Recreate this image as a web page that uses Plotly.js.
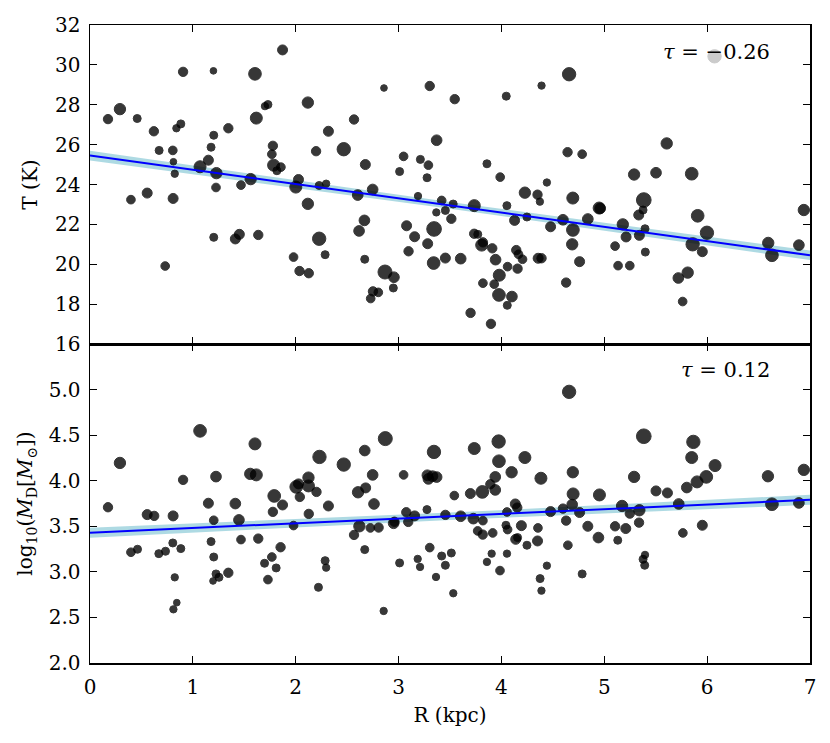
<!DOCTYPE html>
<html>
<head>
<meta charset="utf-8">
<script src="https://cdn.plot.ly/plotly-3.0.1.min.js"></script>
<style>
  html, body { margin: 0; padding: 0; background: #fff; }
  #chart { width: 830px; height: 743px; }
</style>
</head>
<body>
<div id="chart"></div>
<script>
// --- top panel: galactocentric radius vs dust temperature
var tR = [0.175,0.291,0.459,0.398,0.556,0.621,0.672,0.731,0.805,0.811,0.824,0.808,0.84,0.883,0.905,
  1.2,1.203,1.177,1.151,1.07,1.229,1.225,1.203,1.345,1.413,1.452,1.468,1.562,1.604,1.617,1.636,1.701,1.73,
  1.778,1.768,1.785,1.856,1.817,1.872,1.979,2.001,2.027,2.037,2.127,2.118,2.118,2.198,2.228,2.228,2.296,
  2.286,2.318,2.467,2.567,2.677,2.603,2.668,2.616,2.671,2.748,2.858,2.868,2.955,2.949,2.751,2.803,2.729,
  3.049,3.01,3.078,3.097,3.156,3.303,3.546,4.047,4.39,4.658,3.37,3.212,3.29,3.277,3.189,3.859,3.988,4.442,
  4.643,4.785,4.228,4.351,4.374,4.694,4.95,4.96,3.419,3.531,3.367,3.455,3.513,3.736,4.053,4.128,4.248,
  4.478,4.598,4.695,4.688,4.84,3.345,3.283,3.341,3.455,3.604,3.735,3.77,3.808,3.82,3.911,3.943,3.979,
  3.82,3.93,3.976,4.102,4.057,4.06,4.157,4.144,4.166,4.205,4.357,4.39,3.7,3.898,4.629,4.76,5.105,5.134,
  5.248,5.212,5.18,5.29,5.503,5.384,5.377,5.335,5.396,5.341,5.399,5.607,5.85,5.908,5.998,5.859,5.953,
  5.811,5.72,5.762,6.594,6.63,6.892,6.94];
var tT = [27.28,27.78,27.31,23.24,23.57,26.67,25.71,19.91,25.71,25.14,24.54,23.30,26.82,27.04,29.65,
  29.70,26.47,25.87,25.22,24.89,24.57,23.85,21.35,26.82,21.27,21.50,23.97,24.27,29.55,27.33,21.47,27.93,28.01,
  25.94,25.52,24.97,24.87,24.69,30.75,20.36,23.87,24.25,19.66,19.55,28.11,23.03,25.67,21.28,23.95,24.04,
  20.48,26.67,25.77,27.26,25.0,23.47,22.20,21.67,20.25,23.75,28.84,19.61,19.35,18.81,18.64,18.59,18.28,
  25.41,24.65,21.93,20.65,21.38,28.94,28.28,28.43,28.96,29.53,26.22,25.26,24.97,24.34,23.42,25.04,24.37,24.10,
  25.62,25.52,23.59,23.49,23.14,23.32,22.82,22.80,23.20,23.02,22.60,22.70,22.28,22.94,22.94,22.20,22.37,
  21.88,22.23,21.72,21.0,22.27,21.77,21.03,20.06,20.31,20.28,21.53,21.50,20.96,21.1,20.80,20.23,19.45,
  19.05,19.0,18.46,18.38,17.94,19.88,19.78,20.71,20.50,20.25,20.30,20.30,17.56,17.01,19.08,20.13,20.91,19.93,
  19.93,21.37,22.0,24.50,24.59,23.22,22.72,22.47,21.78,21.45,20.61,26.06,24.54,22.43,21.58,21.0,20.63,
  19.58,19.31,18.13,21.07,20.45,20.96,22.72];
var tW = [3,4.5,2,2.5,3.5,3,2,2.5,2.5,1,1.5,3.5,1.5,2,3,
  1,2,2,3.5,5,4.5,2.5,2,3,3.5,3.5,2.5,4.5,5.5,5,3,1.5,2,
  3,2.5,5,2.5,2,3.5,2.5,5,3.5,3,3,4.5,4.5,3,6,2,1.5,
  2,3.5,6,3,3.5,4,4,4,2,4,1,6.5,4,2,3,2.5,2.5,
  2.5,2,3.5,3,3.5,3,3,2,1.5,6,4,2,2.5,2,1.5,2,2.5,1.5,
  3,2.5,4.5,3,1.5,5,5,4,2.5,2,1.5,2,3,5,2,3.5,2,
  3.5,4,5.5,4.5,4,7,3.5,5.5,3.5,4,3,2,5,3,3,4,5,
  2.5,2.5,5.5,4,2,2.5,3,3,2.5,2.5,3.5,3,3,3,3,3.5,2.5,2.5,
  2.5,3.5,4.5,4.5,4,7,2,3.5,2,3.5,2,4.5,5.5,5.5,6,6,3.5,
  4.5,4,2.5,4.5,5.5,4,4.5];
// the one source drawn in light grey
var greyR = [6.072], greyT = [30.43], greyW = [6];

// --- bottom panel: radius vs log dust mass
var mR = [0.175,0.291,0.398,0.462,0.556,0.624,0.669,0.734,0.808,0.805,0.883,0.824,0.844,0.811,0.905,
  1.07,1.151,1.203,1.177,1.203,1.225,1.225,1.254,1.196,1.345,1.413,1.448,1.468,1.558,1.617,1.604,1.636,
  1.697,1.73,1.768,1.81,1.778,1.791,1.872,1.853,1.979,2.005,2.027,2.04,2.124,2.124,2.127,2.202,2.231,
  2.221,2.286,2.296,2.318,2.467,2.671,2.606,2.68,2.748,2.761,2.619,2.567,2.671,2.726,2.806,2.871,2.855,
  2.952,2.96,3.049,3.075,3.094,3.01,3.156,4.658,5.384,5.866,5.85,6.077,5.992,5.902,5.802,6.591,6.94,6.63,
  6.892,5.724,5.953,5.764,5.503,5.614,5.29,5.341,5.338,5.396,5.377,5.393,5.173,5.248,5.209,5.105,5.131,
  4.943,4.84,4.953,4.694,4.697,4.688,4.76,4.598,4.629,4.646,4.785,4.478,4.384,4.355,4.351,4.442,4.376,
  4.389,4.228,4.099,3.973,3.976,3.94,3.94,3.892,3.814,3.736,3.698,3.542,3.344,3.28,3.33,3.37,3.29,3.276,
  3.455,3.604,3.727,3.82,3.769,3.818,3.915,4.054,4.135,4.154,4.044,4.06,4.194,4.139,4.157,4.248,3.303,
  3.419,3.455,3.513,3.186,3.209,3.364,3.532,3.905,3.859,4.054,3.986];
var mM = [3.709,4.195,3.215,3.248,3.628,3.614,3.20,3.226,3.614,3.317,3.255,2.94,2.662,2.589,4.009,
  4.547,3.753,3.566,3.332,3.163,4.045,2.977,2.94,2.90,2.99,3.749,3.57,3.354,4.075,4.064,4.404,3.365,
  3.094,2.915,3.163,3.043,3.658,3.833,3.734,3.27,3.508,3.932,3.965,3.822,4.034,3.943,3.636,3.877,4.261,
  2.83,3.123,3.046,3.723,4.177,4.331,3.873,3.921,4.064,3.745,3.50,3.405,3.244,3.482,3.486,4.462,2.571,
  3.533,3.55,4.064,3.654,3.548,3.098,3.614,4.975,4.488,4.426,4.254,4.166,4.042,3.987,3.925,4.049,4.119,3.742,
  3.756,3.745,3.511,3.427,3.888,3.866,4.042,3.676,3.54,3.186,3.138,3.072,3.723,3.639,3.475,3.50,3.347,
  3.376,3.50,3.844,4.093,3.855,3.738,3.651,3.694,3.562,3.292,2.977,3.661,4.027,3.482,3.339,3.068,2.926,
  2.794,4.254,4.093,4.43,4.214,4.042,3.899,3.961,3.877,4.353,3.859,3.837,4.316,4.06,4.05,4.04,4.02,3.683,
  3.625,3.61,3.584,3.562,3.449,3.409,3.427,3.657,3.745,3.705,3.511,3.464,3.507,3.357,3.376,3.292,3.266,
  3.174,3.072,3.207,3.142,3.054,2.944,2.765,3.20,3.109,3.20,3.014];
var mW = [3,4.5,2.5,2,3.5,3,2,2,3.5,2,2,1.5,1,1.5,3,
  5.5,3.5,2.5,2,2,4,2,2,1,3,4,4,2.5,4.5,5,5,3,
  2,2.5,2.5,2,3,5.5,3.5,3,2.5,5.5,3.5,3,4.5,5,3,3,6,
  2,2,1.5,3.5,6,4,4.5,3.5,4,4,4.5,3,2,2.5,3,6.5,1.5,
  4,3,2.5,3,3,2,3.5,6,7,6,5,5,5.5,5,4,4.5,4.5,5.5,
  4,4,3.5,2.5,3.5,3.5,4.5,4.5,3,1.5,2,2,4.5,3,3.5,3,2,
  4,3.5,5,4.5,5,4,3.5,3,3,2.5,2,3.5,5,2.5,3.5,1.5,2,
  1.5,5,4.5,6,5.5,4,4,3,5.5,5,3.5,2.5,6,4,4,4,4,2,
  3,4,4,2.5,2.5,3,2.5,2.5,3.5,3,2,2.5,3.5,3.5,2,2,2.5,
  2,2,2,1.5,1.5,1.5,1.5,1.5,1.5,1.5,2.5];

// regression lines and their bands
var fitR  = [0, 3.5, 7];
var fitT  = [25.45, 22.95, 20.45];
var bandT = [0.24, 0.17, 0.24];
var fitM  = [3.43, 3.61, 3.79];
var bandM = [0.055, 0.04, 0.055];

var tauT = '<i>τ</i> = −0.26';
var tauM = '<i>τ</i> = 0.12';

var serif = "'DejaVu Serif', serif";

function msize(w) { return w.map(function (v) { return (16 + 4 * v) / 3; }); }

function band(fit, hw, xa, ya) {
  var xs = fitR.concat(fitR.slice().reverse());
  var up = fit.map(function (v, i) { return v + hw[i]; });
  var lo = fit.map(function (v, i) { return v - hw[i]; }).reverse();
  return {x: xs, y: up.concat(lo), xaxis: xa, yaxis: ya, mode: 'lines', fill: 'toself',
          fillcolor: 'rgba(160,212,222,0.85)', line: {width: 0}, hoverinfo: 'skip'};
}

function dots(x, y, w, xa, ya, col) {
  return {x: x, y: y, xaxis: xa, yaxis: ya, mode: 'markers', type: 'scatter',
          marker: {size: msize(w), color: col, opacity: 0.78, line: {width: 1, color: col}}};
}

function fitline(fit, xa, ya) {
  return {x: fitR, y: fit, xaxis: xa, yaxis: ya, mode: 'lines', line: {color: '#0000ff', width: 2}};
}

var traces = [
  band(fitT, bandT, 'x', 'y'),
  dots(tR, tT, tW, 'x', 'y', '#000000'),
  dots(greyR, greyT, greyW, 'x', 'y', '#bdbdbd'),
  fitline(fitT, 'x', 'y'),
  band(fitM, bandM, 'x2', 'y2'),
  dots(mR, mM, mW, 'x2', 'y2', '#000000'),
  fitline(fitM, 'x2', 'y2')
];

var axBase = {
  showline: true, linewidth: 1.5, linecolor: '#000', mirror: 'ticks',
  ticks: 'inside', ticklen: 7, tickwidth: 1, tickcolor: '#000',
  showgrid: false, zeroline: false,
  tickfont: {family: serif, size: 20, color: '#000'}
};
function ax(extra) { return Object.assign({}, axBase, extra); }

var layout = {
  width: 830, height: 743,
  margin: {l: 90, r: 20, t: 25, b: 80},
  paper_bgcolor: '#fff', plot_bgcolor: '#fff',
  showlegend: false,
  font: {family: serif, size: 20, color: '#000'},
  xaxis: ax({domain: [0, 1], range: [0, 7], anchor: 'y', dtick: 1, tick0: 0, showticklabels: false}),
  yaxis: ax({domain: [0.5, 1], range: [16, 32], anchor: 'x', dtick: 2, tick0: 16, ticklabelstandoff: 4,
    title: {text: 'T (K)', standoff: 12, font: {family: serif, size: 20}}}),
  xaxis2: ax({domain: [0, 1], range: [0, 7], anchor: 'y2', matches: 'x', dtick: 1, tick0: 0,
    ticklabelstandoff: 5,
    title: {text: 'R (kpc)', standoff: 10, font: {family: serif, size: 20}}}),
  yaxis2: ax({domain: [0, 0.5], range: [2, 5.5], anchor: 'x2',
    tickvals: [2, 2.5, 3, 3.5, 4, 4.5, 5], tickformat: '.1f', ticklabelstandoff: 4,
    title: {text: 'log<sub>10</sub>(<i>M</i><sub>D</sub>[<i>M</i><sub>⊙</sub>])', standoff: 10,
            font: {family: serif, size: 20}}}),
  annotations: [
    {text: tauT, xref: 'x', yref: 'y', x: 6.63, y: 30.63, xanchor: 'right', yanchor: 'middle',
     showarrow: false, font: {family: serif, size: 21, color: '#000'}},
    {text: tauM, xref: 'x2', yref: 'y2', x: 6.63, y: 5.22, xanchor: 'right', yanchor: 'middle',
     showarrow: false, font: {family: serif, size: 21, color: '#000'}}
  ]
};

Plotly.newPlot('chart', traces, layout, {displayModeBar: false, staticPlot: true});
</script>
</body>
</html>
